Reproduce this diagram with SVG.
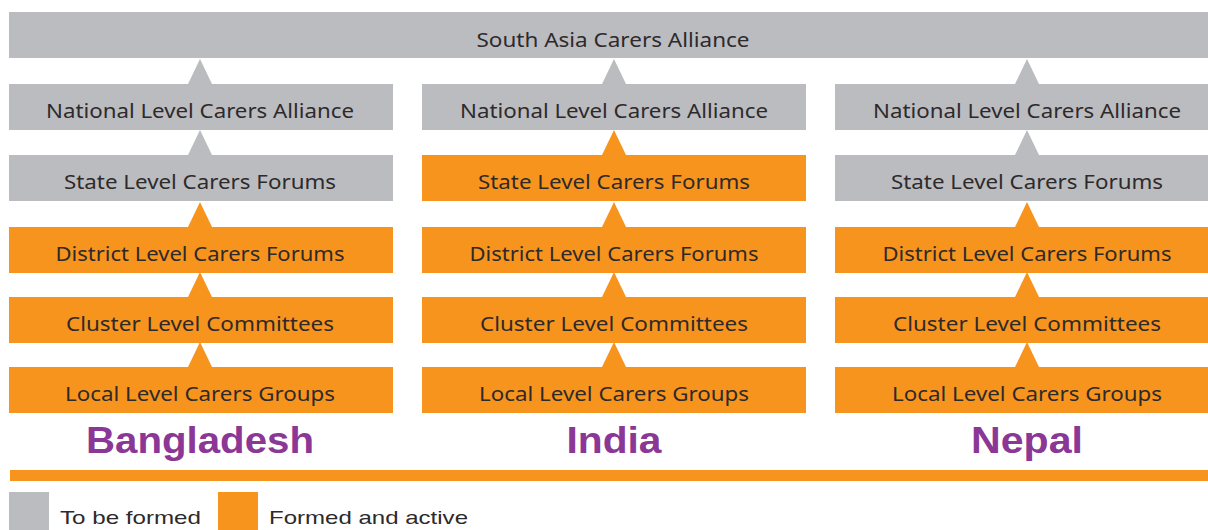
<svg xmlns="http://www.w3.org/2000/svg" width="1208" height="530" viewBox="0 0 1208 530">
<style>
.g{fill:#BBBCC0}
.o{fill:#F7941E}
.t{font-family:"Noto Sans","Liberation Sans",sans-serif;font-size:20px;fill:#2E2A2B;text-anchor:middle}
.c{font-family:"Liberation Sans","Noto Sans",sans-serif;font-weight:bold;font-size:37px;fill:#8B3795;text-anchor:middle}
.l{font-family:"Liberation Sans","Noto Sans",sans-serif;font-size:19px;fill:#2E2A2B}
</style>
<rect width="1208" height="530" fill="#fff"/>
<g id="south-asia"><rect class="g" x="9" y="12" width="1199" height="46"/><text class="t" x="613" y="47" textLength="273" lengthAdjust="spacingAndGlyphs">South Asia Carers Alliance</text></g>

<g id="connectors">
<polygon class="g" points="188,84 212,84 200,59"/>
<polygon class="g" points="188,155 212,155 200,130"/>
<polygon class="o" points="188,227 212,227 200,202"/>
<polygon class="o" points="188,297 212,297 200,272"/>
<polygon class="o" points="188,367 212,367 200,342"/>
<polygon class="g" points="602,84 626,84 614,59"/>
<polygon class="o" points="602,155 626,155 614,130"/>
<polygon class="o" points="602,227 626,227 614,202"/>
<polygon class="o" points="602,297 626,297 614,272"/>
<polygon class="o" points="602,367 626,367 614,342"/>
<polygon class="g" points="1015,84 1039,84 1027,59"/>
<polygon class="g" points="1015,155 1039,155 1027,130"/>
<polygon class="o" points="1015,227 1039,227 1027,202"/>
<polygon class="o" points="1015,297 1039,297 1027,272"/>
<polygon class="o" points="1015,367 1039,367 1027,342"/>
</g>

<g id="bd-national"><rect class="g" x="9" y="84" width="384" height="46"/><text class="t" x="200" y="118" textLength="308" lengthAdjust="spacingAndGlyphs">National Level Carers Alliance</text></g>
<g id="bd-state"><rect class="g" x="9" y="155" width="384" height="46"/><text class="t" x="200" y="189" textLength="272" lengthAdjust="spacingAndGlyphs">State Level Carers Forums</text></g>
<g id="bd-district"><rect class="o" x="9" y="227" width="384" height="46"/><text class="t" x="200" y="261" textLength="289" lengthAdjust="spacingAndGlyphs">District Level Carers Forums</text></g>
<g id="bd-cluster"><rect class="o" x="9" y="297" width="384" height="46"/><text class="t" x="200" y="331" textLength="268" lengthAdjust="spacingAndGlyphs">Cluster Level Committees</text></g>
<g id="bd-local"><rect class="o" x="9" y="367" width="384" height="46"/><text class="t" x="200" y="401" textLength="270" lengthAdjust="spacingAndGlyphs">Local Level Carers Groups</text></g>

<g id="in-national"><rect class="g" x="422" y="84" width="384" height="46"/><text class="t" x="614" y="118" textLength="308" lengthAdjust="spacingAndGlyphs">National Level Carers Alliance</text></g>
<g id="in-state"><rect class="o" x="422" y="155" width="384" height="46"/><text class="t" x="614" y="189" textLength="272" lengthAdjust="spacingAndGlyphs">State Level Carers Forums</text></g>
<g id="in-district"><rect class="o" x="422" y="227" width="384" height="46"/><text class="t" x="614" y="261" textLength="289" lengthAdjust="spacingAndGlyphs">District Level Carers Forums</text></g>
<g id="in-cluster"><rect class="o" x="422" y="297" width="384" height="46"/><text class="t" x="614" y="331" textLength="268" lengthAdjust="spacingAndGlyphs">Cluster Level Committees</text></g>
<g id="in-local"><rect class="o" x="422" y="367" width="384" height="46"/><text class="t" x="614" y="401" textLength="270" lengthAdjust="spacingAndGlyphs">Local Level Carers Groups</text></g>

<g id="np-national"><rect class="g" x="835" y="84" width="384" height="46"/><text class="t" x="1027" y="118" textLength="308" lengthAdjust="spacingAndGlyphs">National Level Carers Alliance</text></g>
<g id="np-state"><rect class="g" x="835" y="155" width="384" height="46"/><text class="t" x="1027" y="189" textLength="272" lengthAdjust="spacingAndGlyphs">State Level Carers Forums</text></g>
<g id="np-district"><rect class="o" x="835" y="227" width="384" height="46"/><text class="t" x="1027" y="261" textLength="289" lengthAdjust="spacingAndGlyphs">District Level Carers Forums</text></g>
<g id="np-cluster"><rect class="o" x="835" y="297" width="384" height="46"/><text class="t" x="1027" y="331" textLength="268" lengthAdjust="spacingAndGlyphs">Cluster Level Committees</text></g>
<g id="np-local"><rect class="o" x="835" y="367" width="384" height="46"/><text class="t" x="1027" y="401" textLength="270" lengthAdjust="spacingAndGlyphs">Local Level Carers Groups</text></g>

<g id="labels">
<text class="c" x="200" y="453" textLength="228" lengthAdjust="spacingAndGlyphs">Bangladesh</text>
<text class="c" x="614" y="453" textLength="95" lengthAdjust="spacingAndGlyphs">India</text>
<text class="c" x="1027" y="453" textLength="112" lengthAdjust="spacingAndGlyphs">Nepal</text>
</g>
<rect id="divider" class="o" x="10" y="470" width="1198" height="11"/>
<g id="legend">
<rect class="g" x="9" y="492" width="40" height="40"/>
<text class="l" x="60" y="524" textLength="141" lengthAdjust="spacingAndGlyphs">To be formed</text>
<rect class="o" x="218" y="492" width="40" height="40"/>
<text class="l" x="269" y="524" textLength="199" lengthAdjust="spacingAndGlyphs">Formed and active</text>
</g>
</svg>
